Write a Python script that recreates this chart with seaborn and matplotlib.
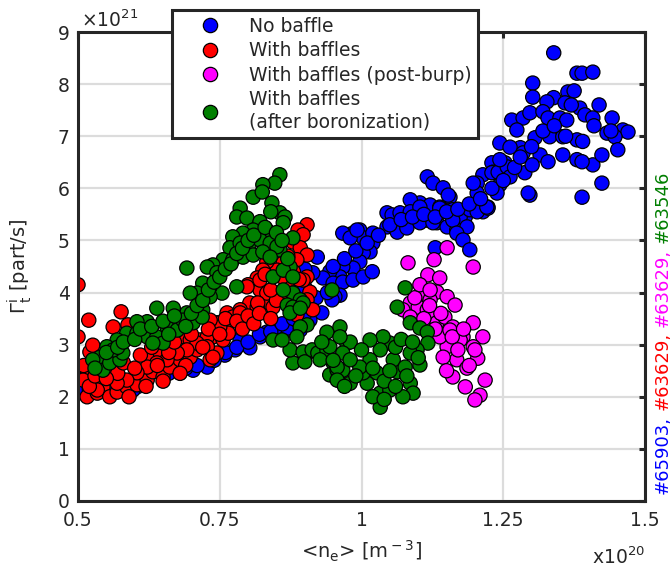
import numpy as np
import pandas as pd
import matplotlib
matplotlib.use("Agg")
import matplotlib.pyplot as plt
from matplotlib.lines import Line2D
import seaborn as sns

# ---------------- data (x in 1e20 m^-3, y in 1e21 part/s) ----------------
series_names = ["No baffle", "With baffles", "With baffles (post-burp)",
                "With baffles\n(after boronization)"]
series_colors = ["#0000FF", "#FF0000", "#FF00FF", "#007F00"]

blue_x = [1.339, 1.380, 1.389, 1.408, 1.302, 1.302, 1.364, 1.375, 1.339, 1.327, 1.359, 1.385, 1.419,
          1.265, 1.285, 1.297, 1.320, 1.329, 1.350, 1.362, 1.394, 1.408, 1.442, 1.461, 1.470,
          1.274, 1.306, 1.332, 1.355, 1.380, 1.433, 1.447,
          1.244, 1.280, 1.315, 1.355, 1.380, 1.408, 1.424, 1.452,
          1.230, 1.253, 1.288, 1.301, 1.329, 1.389,
          1.214, 1.232, 1.258, 1.244, 1.297, 1.389, 1.424,
          1.204, 1.204, 1.223, 1.239, 1.156, 1.168, 1.183, 1.197, 1.214,
          1.116, 1.126, 1.144, 1.153, 1.103, 1.121, 1.138, 1.161, 1.174, 1.191, 1.204, 1.223,
          1.197, 1.230, 1.241, 1.257, 1.262, 1.244, 1.262, 1.285, 1.294,
          1.086, 1.098, 1.116, 1.133, 1.151, 1.168, 1.186, 1.161, 1.138,
          0.997, 0.985, 1.003, 1.020, 1.045, 1.054, 1.068, 1.086, 1.103, 1.138, 1.221,
          1.045, 1.063, 1.080, 1.103, 1.126, 1.168, 1.179, 1.191, 1.130,
          1.020, 1.015, 1.003, 0.997, 0.985, 0.967, 0.962, 0.944, 0.932, 0.950, 0.967, 0.985,
          1.003, 1.019, 0.962, 0.953, 0.914, 0.967, 0.980, 0.992, 0.922, 0.930,
          0.803, 0.851, 0.874, 0.821, 0.786, 0.728, 0.703, 0.680, 0.662, 0.645, 0.604, 0.597,
          0.562, 0.539, 0.509, 0.500, 0.833, 0.870, 0.886, 0.948,
          0.574, 0.627, 0.759, 0.777, 0.892, 0.909, 0.504, 0.521,
          0.520, 0.540, 0.560, 0.580, 0.600, 0.620, 0.660, 0.690, 0.710, 0.740, 0.760, 0.780,
          0.800, 0.820, 0.840, 0.860, 0.880, 0.900, 0.910, 0.920, 0.940, 0.900, 0.880, 0.900,
          0.950, 0.970, 0.990, 1.010, 1.030, 1.050, 1.070, 1.090, 1.110, 1.130, 1.150, 1.170,
          1.190, 1.210, 1.230, 1.250, 1.270, 1.280, 1.300, 1.320, 1.340, 1.360, 1.390, 1.410,
          1.440, 1.370]
blue_y = [8.60, 8.21, 8.21, 8.23, 8.02, 7.75, 7.85, 7.87, 7.74, 7.66, 7.64, 7.54, 7.60,
          7.31, 7.35, 7.45, 7.47, 7.35, 7.35, 7.31, 7.41, 7.35, 7.35, 7.12, 7.08,
          7.12, 6.97, 6.99, 6.99, 6.93, 7.06, 6.99,
          6.87, 6.78, 6.64, 6.64, 6.55, 6.45, 6.64, 6.74,
          6.49, 6.49, 6.30, 6.45, 6.51, 6.51,
          6.26, 6.31, 6.22, 6.07, 5.87, 5.83, 6.10,
          6.10, 5.91, 5.64, 5.91, 5.83, 5.59, 5.45, 5.59, 5.55,
          6.22, 6.10, 6.01, 5.87, 5.72, 5.68, 5.64, 5.59, 5.45, 5.59, 5.55, 5.62,
          6.10, 6.30, 6.31, 6.41, 6.22, 6.55, 6.79, 6.68, 5.91,
          5.78, 5.45, 5.39, 5.34, 5.26, 5.20, 5.26, 5.39, 5.53,
          5.20, 5.14, 5.05, 5.14, 5.53, 5.49, 5.53, 5.55, 5.64, 5.62, 5.64,
          5.26, 5.16, 5.24, 5.34, 5.34, 5.14, 5.01, 4.82, 4.86,
          4.95, 4.78, 4.76, 4.59, 4.47, 4.49, 4.30, 4.40, 4.28, 4.18, 4.20, 4.24,
          4.30, 4.40, 3.95, 3.92, 4.38, 5.14, 5.05, 5.20, 4.68, 3.61,
          2.94, 3.34, 3.28, 3.15, 3.09, 2.57, 2.51, 2.46, 2.51, 2.57, 2.19, 2.13,
          2.38, 2.32, 2.26, 2.07, 3.24, 3.32, 3.47, 3.86,
          2.36, 2.48, 2.80, 2.90, 3.28, 3.47, 2.19, 2.32,
          2.15, 2.20, 2.25, 2.30, 2.35, 2.40, 2.45, 2.55, 2.60, 2.70, 2.85, 2.95,
          3.05, 3.20, 3.25, 3.40, 3.50, 3.60, 3.75, 3.90, 4.00, 4.10, 4.30, 4.45,
          4.50, 4.65, 4.80, 4.95, 5.10, 5.30, 5.40, 5.45, 5.50, 5.45, 5.55, 5.60,
          5.70, 5.80, 6.00, 6.15, 6.40, 6.60, 6.80, 7.10, 7.20, 7.00, 6.90, 7.20,
          7.10, 7.60]

red_x = [0.500, 0.500, 0.519, 0.576, 0.521, 0.516, 0.509, 0.516, 0.534, 0.544, 0.556, 0.569,
         0.586, 0.604, 0.622, 0.632, 0.650, 0.662, 0.680, 0.698, 0.710, 0.728, 0.738, 0.756,
         0.763, 0.733, 0.745, 0.562, 0.588, 0.604, 0.627, 0.645, 0.668, 0.680, 0.698, 0.715,
         0.733, 0.745, 0.756,
         0.904, 0.888, 0.897, 0.879, 0.892, 0.904, 0.886, 0.862, 0.851, 0.833, 0.826, 0.816,
         0.800, 0.821, 0.833, 0.803, 0.786, 0.773, 0.763, 0.750, 0.856, 0.869, 0.904, 0.909,
         0.897, 0.886, 0.874, 0.798, 0.821, 0.833, 0.816, 0.844, 0.879, 0.897, 0.904, 0.914,
         0.745, 0.728, 0.710, 0.692, 0.675, 0.657, 0.639, 0.622, 0.604, 0.586, 0.569, 0.534,
         0.765, 0.750, 0.733, 0.728, 0.738, 0.817, 0.786, 0.539, 0.526,
         0.520, 0.530, 0.550, 0.570, 0.580, 0.600, 0.610, 0.630, 0.640, 0.660, 0.670, 0.690,
         0.700, 0.720, 0.730, 0.750, 0.760, 0.780, 0.790, 0.800, 0.810, 0.820, 0.840, 0.850,
         0.860, 0.870, 0.880, 0.890, 0.840, 0.830, 0.620, 0.650, 0.680, 0.590, 0.550, 0.510]
red_y = [4.15, 3.15, 3.47, 3.63, 2.86, 2.51, 2.32, 2.00, 2.07, 2.19, 2.00, 2.09,
         2.19, 2.23, 2.32, 2.48, 2.38, 2.57, 2.71, 2.76, 2.90, 3.03, 3.15, 3.34,
         3.61, 2.71, 2.84, 3.34, 3.38, 3.19, 2.76, 2.84, 2.96, 3.15, 3.09, 3.09,
         3.22, 3.42, 3.09,
         5.30, 5.20, 5.11, 4.97, 4.86, 4.72, 4.63, 4.57, 4.43, 4.59, 4.43, 4.28,
         4.15, 4.05, 3.82, 3.80, 3.67, 3.53, 3.42, 3.42, 3.90, 4.15, 4.30, 4.01,
         3.80, 3.57, 3.72, 4.11, 4.24, 3.99, 3.72, 3.72, 3.99, 4.24, 3.86, 3.67,
         3.28, 3.15, 3.03, 2.90, 2.84, 2.71, 2.65, 2.57, 2.46, 2.32, 2.26, 2.13,
         3.22, 3.34, 3.47, 2.96, 2.76, 3.80, 3.61, 2.71, 2.99,
         2.20, 2.40, 2.55, 2.45, 2.65, 2.55, 2.80, 2.95, 2.60, 2.85, 3.05, 2.60,
         3.20, 2.95, 3.30, 3.20, 3.50, 3.45, 3.30, 3.55, 3.40, 3.60, 3.50, 3.85,
         4.30, 4.70, 4.40, 4.25, 4.05, 4.35, 2.20, 2.30, 2.45, 2.00, 2.35, 2.60]

magenta_x = [1.151, 1.128, 1.082, 1.197, 1.117, 1.138, 1.133, 1.151, 1.108, 1.121, 1.086, 1.073,
             1.100, 1.116, 1.126, 1.086, 1.133, 1.147, 1.161, 1.197, 1.214, 1.179, 1.197, 1.151,
             1.168, 1.186, 1.205, 1.144, 1.161, 1.183, 1.218, 1.209, 1.200, 1.138, 1.094,
             1.103, 1.121, 1.156, 1.174, 1.165,
             1.110, 1.130, 1.140, 1.160, 1.170, 1.190, 1.150, 1.120, 1.180, 1.200]
magenta_y = [4.86, 4.63, 4.57, 4.49, 4.34, 4.28, 4.01, 3.92, 3.99, 3.86, 3.80, 3.67,
             3.72, 3.67, 3.61, 3.53, 3.42, 3.53, 3.34, 3.42, 3.15, 3.15, 2.96, 2.96,
             2.71, 2.55, 2.74, 2.76, 2.38, 2.19, 2.32, 2.03, 1.94, 3.15, 3.90,
             4.15, 4.05, 3.28, 3.09, 3.76,
             3.50, 3.30, 3.60, 3.15, 2.90, 2.60, 2.50, 3.75, 3.30, 2.90]

green_x = [0.856, 0.847, 0.826, 0.809, 0.825, 0.842, 0.856, 0.865, 0.786, 0.780, 0.798, 0.821,
           0.833, 0.809, 0.791, 0.773, 0.768, 0.786, 0.803, 0.821, 0.839, 0.856, 0.756, 0.738,
           0.728, 0.750, 0.773, 0.791, 0.809, 0.826, 0.851, 0.754, 0.733, 0.720, 0.879, 0.862,
           0.874, 0.844, 0.879, 0.892, 0.904, 0.869, 0.862, 0.839, 0.780,
           0.692, 0.745, 0.720, 0.710, 0.698, 0.733, 0.692, 0.668, 0.639, 0.622, 0.604, 0.586,
           0.569, 0.551, 0.539, 0.526, 0.544, 0.556, 0.574, 0.604, 0.622, 0.639, 0.657, 0.675,
           0.685, 0.703, 0.719, 0.579, 0.562, 0.650, 0.632,
           0.844, 0.879, 0.897, 0.892, 0.904, 0.879, 0.874, 0.862, 0.879, 0.860, 0.874, 0.892,
           0.886, 0.897, 0.900, 0.913, 0.923, 0.939, 0.939, 0.950, 0.944, 0.959, 0.962, 0.974,
           0.957, 0.967, 0.927,
           1.063, 1.086, 1.103, 1.116, 1.117, 1.098, 1.103, 1.086, 1.091, 1.073, 1.063, 1.056,
           1.050, 1.038, 1.033, 1.015, 1.015, 1.027, 1.010, 1.033, 1.033, 1.020, 1.003, 0.980,
           0.962, 0.944, 0.967, 0.957, 0.957, 0.980, 0.997, 0.980, 1.086, 1.077, 1.050, 1.077,
           0.948,
           0.530, 0.550, 0.570, 0.580, 0.600, 0.610, 0.630, 0.650, 0.660, 0.670, 0.690, 0.700,
           0.710, 0.720, 0.730, 0.740, 0.750, 0.760, 0.770, 0.780, 0.790, 0.800, 0.810, 0.830,
           0.840, 0.850, 0.860, 0.870,
           0.990, 1.000, 1.020, 1.040, 1.050, 1.060, 1.070, 1.080, 1.090, 1.100, 0.970, 0.950,
           0.930, 1.040, 1.060]
green_y = [6.26, 6.10, 6.07, 5.83, 5.93, 5.72, 5.53, 5.45, 5.62, 5.45, 5.43, 5.36,
           5.20, 5.20, 5.14, 5.07, 4.86, 4.95, 4.95, 5.01, 4.95, 4.82, 4.63, 4.53,
           4.49, 4.38, 4.63, 4.68, 4.72, 4.78, 4.88, 3.99, 4.11, 3.67, 5.05, 5.34,
           4.49, 4.30, 3.99, 3.86, 3.38, 3.76, 4.43, 4.68, 4.11,
           4.47, 4.38, 4.18, 3.99, 3.99, 3.92, 3.61, 3.70, 3.70, 3.44, 3.44, 3.22,
           3.09, 2.96, 2.76, 2.71, 2.51, 2.65, 2.71, 3.22, 3.15, 3.15, 3.34, 3.28,
           3.47, 3.42, 3.53, 2.84, 2.90, 3.03, 3.03,
           3.09, 3.72, 3.80, 3.34, 2.84, 2.65, 2.90, 4.05, 4.30, 3.09, 3.61, 3.70,
           3.15, 2.86, 2.67, 2.90, 2.84, 3.24, 2.90, 2.65, 2.42, 2.32, 3.34, 3.03,
           2.51, 2.51, 2.71,
           3.72, 3.42, 3.32, 3.24, 3.03, 2.90, 2.61, 2.26, 2.07, 2.00, 2.48, 2.71,
           3.03, 3.15, 2.90, 3.09, 2.71, 2.46, 2.26, 2.07, 1.80, 2.00, 2.46, 3.05,
           3.15, 2.96, 2.84, 2.57, 2.32, 2.26, 2.57, 2.71, 2.84, 2.57, 2.13, 4.09,
           4.05,
           2.55, 2.85, 2.95, 3.05, 3.10, 3.30, 3.35, 3.45, 3.20, 3.55, 3.35, 3.60,
           3.75, 3.85, 4.05, 4.20, 4.30, 4.45, 4.55, 4.75, 4.85, 5.00, 5.10, 5.25,
           5.55, 5.15, 5.00, 4.65,
           2.40, 2.90, 2.55, 2.30, 2.50, 2.95, 3.10, 2.40, 3.05, 2.75, 2.20, 2.70,
           3.05, 1.95, 2.20]

x_ticks = [0.5, 0.75, 1.0, 1.25, 1.5]
x_tick_labels = ["0.5", "0.75", "1", "1.25", "1.5"]
y_ticks = [0, 1, 2, 3, 4, 5, 6, 7, 8, 9]
shot_labels = ["#65903,", "#63629,", "#63629,", "#63546"]

# ---------------- build table ----------------
xs = [blue_x, red_x, magenta_x, green_x]
ys = [blue_y, red_y, magenta_y, green_y]
df = pd.concat([pd.DataFrame({"ne": x, "gamma": y, "series": n})
                for x, y, n in zip(xs, ys, series_names)], ignore_index=True)

# ---------------- figure ----------------
sns.set_style("white")
plt.rcParams["font.family"] = ["DejaVu Sans"]
dark = "#262626"

W, H = 672, 573
fig = plt.figure(figsize=(W / 100, H / 100), dpi=100)
ax = fig.add_axes([78 / W, 1 - 501 / H, (645 - 78) / W, (501 - 32) / H])

sns.scatterplot(data=df, x="ne", y="gamma", hue="series", hue_order=series_names,
                palette=series_colors, s=105, edgecolor="black", linewidth=0.9,
                legend=False, ax=ax, zorder=3)

ax.set_xlim(0.5, 1.5)
ax.set_ylim(0, 9)
ax.set_xticks(x_ticks)
ax.set_xticklabels(x_tick_labels)
ax.set_yticks(y_ticks)
ax.set_yticklabels([str(v) for v in y_ticks])
ax.grid(True, color="#dcdcdc", linewidth=1.6, zorder=0)
ax.set_axisbelow(True)
for sp in ax.spines.values():
    sp.set_color(dark)
    sp.set_linewidth(2.2)
    sp.set_zorder(4)
ax.tick_params(axis="both", which="both", direction="in", length=4, width=2.2,
               color=dark, labelcolor=dark, labelsize=13.5,
               top=True, right=True)
ax.tick_params(axis="x", pad=7)
ax.tick_params(axis="y", pad=6)

ax.set_xlabel(r"<n$_{\rm e}$> [m$^{\rm -3}$]", fontsize=14, color=dark)
ax.set_ylabel(r"$\mathrm{\Gamma}^{\rm i}_{\rm t}$ [part/s]", fontsize=14, color=dark)
ax.xaxis.set_label_coords(0.5, -0.08)
ax.yaxis.set_label_coords(-0.078, 0.5)

fig.text(81 / W, 1 - 27 / H, r"$\times$10$^{21}$", fontsize=13.5, color=dark,
         ha="left", va="baseline")
fig.text(645 / W, 1 - 564 / H, r"x10$^{20}$", fontsize=13.5, color=dark,
         ha="right", va="baseline")

# legend
handles = [Line2D([], [], ls="", marker="o", markersize=10.3, markerfacecolor=c,
                  markeredgecolor="black", markeredgewidth=0.9) for c in series_colors]
leg = ax.legend(handles, series_names, loc="upper left",
                bbox_to_anchor=(172 / W, 1 - 10 / H), bbox_transform=fig.transFigure,
                frameon=True, fancybox=False, framealpha=1, fontsize=13.5,
                labelspacing=0.3, handletextpad=0.35, borderpad=0.35,
                handlelength=3.4, borderaxespad=0)
leg.get_frame().set_edgecolor(dark)
leg.get_frame().set_linewidth(2.2)
leg.set_zorder(10)
for t in leg.get_texts():
    t.set_linespacing(1.2)

# right-side shot numbers, stacked vertically in different colours
fig.canvas.draw()
renderer = fig.canvas.get_renderer()
ypos = 1 - 494 / H
gap = 5.5 / H
for s, c in zip(shot_labels, series_colors):
    t = fig.text(663 / W, ypos, s, color=c, rotation=90, ha="center", va="bottom",
                 fontsize=13)
    bb = t.get_window_extent(renderer)
    ypos += bb.height / fig.bbox.height + gap

fig.savefig("out.png", dpi=100)
